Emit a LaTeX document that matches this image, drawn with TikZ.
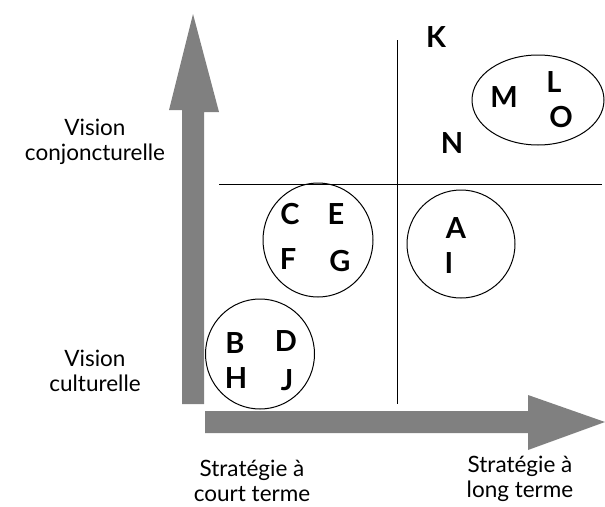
\documentclass[tikz,border=0pt]{standalone}
\usepackage{fontspec}
\setmainfont{Lato}
\begin{document}
\begin{tikzpicture}[x=1pt,y=-1pt,
  lbl/.style={font=\fontsize{22.5}{25.5}\selectfont, align=center},
  let/.style={font=\fontsize{29}{29}\selectfont\bfseries},
  grp/.style={draw=black, line width=1pt},
  axis/.style={fill=black!50}]
\useasboundingbox (0,0) rectangle (605,506);
% axes arrows
\fill[axis] (182,404) -- (182,110) -- (169,110) -- (193,14) -- (219,112) -- (204,112) -- (204,404) -- cycle;
\fill[axis] (205,411) -- (528,411) -- (528,395) -- (605,422) -- (528,450) -- (528,433) -- (205,433) -- cycle;
% quadrant lines
\coordinate (hl) at (219,184); \coordinate (hr) at (602,184);
\coordinate (vt) at (397,40); \coordinate (vb) at (397,404);
\draw[line width=1pt] (hl) -- (hr);
\draw[line width=1pt] (vt) -- (vb);
% groups
\draw[grp] (318,240) ellipse [x radius=55, y radius=57];
\draw[grp] (260,354) ellipse [x radius=54.5, y radius=55];
\draw[grp] (461,244) ellipse [x radius=54, y radius=54];
\draw[grp] (538,100) ellipse [x radius=66, y radius=45];
% letters
\node[let] (K) at (436,37) {K};
\node[let] (M) at (504,97) {M};
\node[let] (L) at (554,82) {L};
\node[let] (O) at (561,117) {O};
\node[let] (N) at (452,143) {N};
\node[let] (C) at (290,214) {C};
\node[let] (E) at (336,214) {E};
\node[let] (F) at (288,259) {F};
\node[let] (G) at (340,261) {G};
\node[let] (A) at (456,228) {A};
\node[let] (I) at (449,263) {I};
\node[let] (B) at (235,343) {B};
\node[let] (D) at (286,341) {D};
\node[let] (H) at (236,378) {H};
\node[let] (J) at (287,380) {J};
% labels
\node[lbl] (vc) at (95,142) {Vision\\conjoncturelle};
\node[lbl] (vu) at (95,371) {Vision\\culturelle};
\node[lbl] (sc) at (252,481) {Stratégie à\\court terme};
\node[lbl] (sl) at (520,479) {Stratégie à\\long terme};
\end{tikzpicture}
\end{document}
